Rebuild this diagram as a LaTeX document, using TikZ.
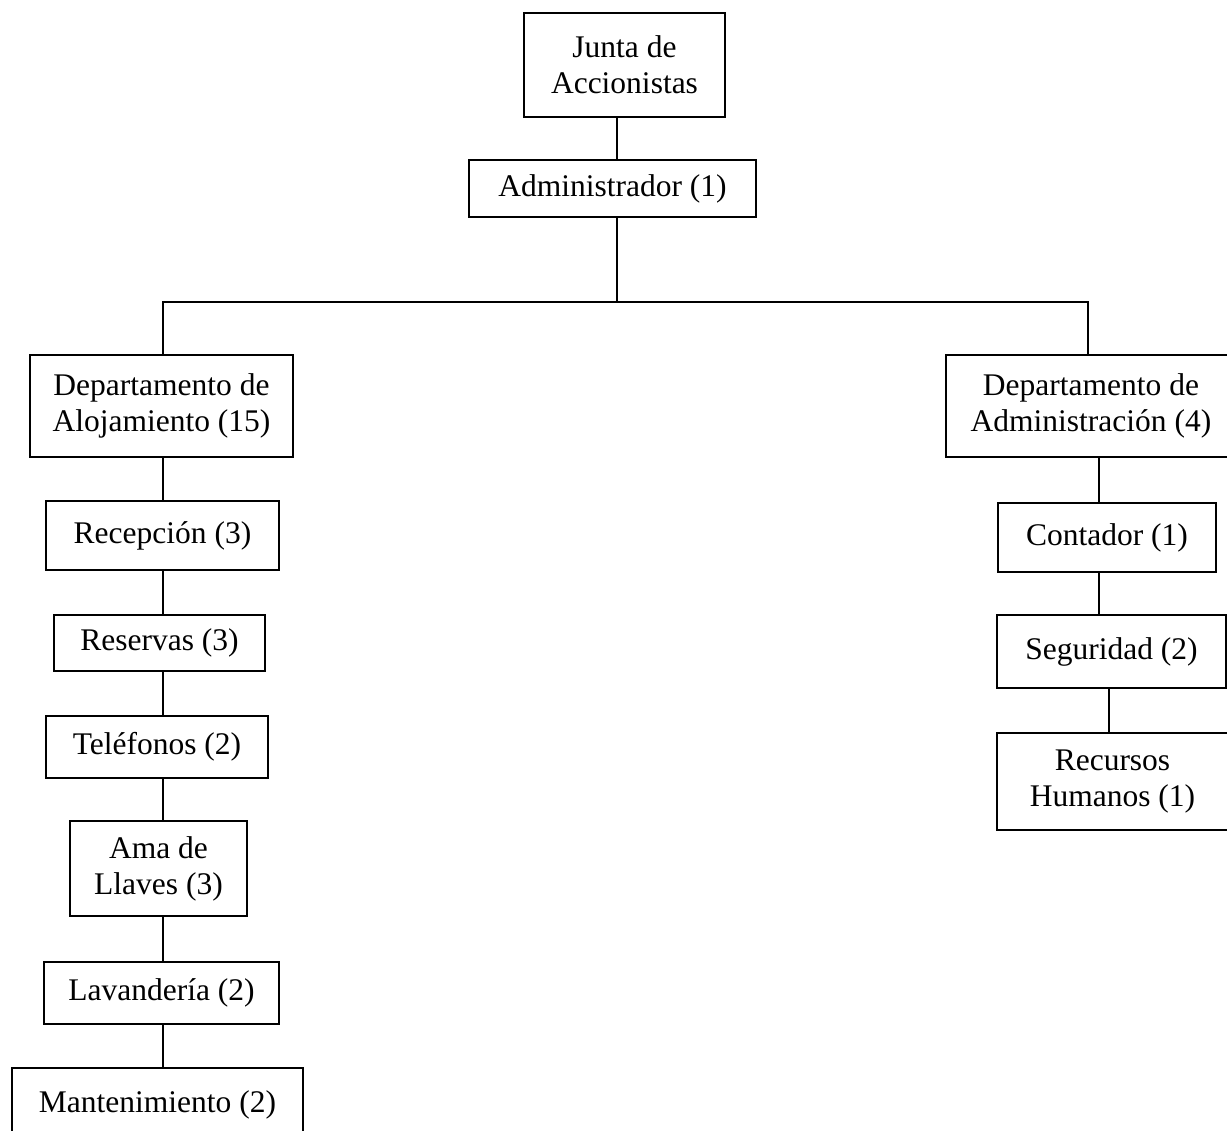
\documentclass[tikz,border=0pt]{standalone}
\usepackage{fontspec}
\setmainfont{Liberation Serif}
\begin{document}
\begin{tikzpicture}[x=1pt,y=-1pt,
  box/.style={draw, line width=1.8pt, inner sep=0pt, align=center,
    font=\fontsize{31.5}{36}\selectfont},
  conn/.style={line width=1.8pt}]
\clip (0,0) rectangle (1227,1131);
\fill[white] (0,0) rectangle (1227,1131);
% top
\node[box, minimum width=201pt, minimum height=104pt] (junta) at (624.5,65) {Junta de\\Accionistas};
\node[box, minimum width=287pt, minimum height=57pt] (admin) at (612.5,188.5) {Administrador (1)};
% departments
\node[box, minimum width=263pt, minimum height=102pt] (aloj) at (161.5,406) {Departamento de\\Alojamiento (15)};
\node[box, minimum width=290pt, minimum height=102pt] (dadm) at (1091,406) {Departamento de\\Administración (4)};
% left column
\node[box, minimum width=233pt, minimum height=69pt] (recep) at (162.5,535.5) {Recepción (3)};
\node[box, minimum width=211pt, minimum height=56pt] (reserv) at (159.5,643) {Reservas (3)};
\node[box, minimum width=222pt, minimum height=62pt] (telef) at (157,747) {Teléfonos (2)};
\node[box, minimum width=177pt, minimum height=95pt] (ama) at (158.5,868.5) {Ama de\\Llaves (3)};
\node[box, minimum width=235pt, minimum height=62pt] (lavan) at (161.5,993) {Lavandería (2)};
\node[box, minimum width=291pt, minimum height=74pt] (mant) at (157.5,1105) {Mantenimiento (2)};
% right column
\node[box, minimum width=218pt, minimum height=69pt] (cont) at (1107,537.5) {Contador (1)};
\node[box, minimum width=229pt, minimum height=73pt] (seg) at (1111.5,651.5) {Seguridad (2)};
\node[box, minimum width=231pt, minimum height=97pt] (rrhh) at (1112.5,781.5) {Recursos\\Humanos (1)};
% connector guides
\coordinate (bus) at (617,302);
\coordinate (lx) at (163,0);
\coordinate (rx) at (1088,0);
\coordinate (rx2) at (1099,0);
\coordinate (rx3) at (1109,0);
% connectors
\draw[conn] (junta.south -| bus) -- (admin.north -| bus);
\draw[conn] (admin.south -| bus) -- (bus);
\draw[conn] (aloj.north -| lx) |- (bus) -| (dadm.north -| rx);
\draw[conn] (aloj.south -| lx) -- (recep.north -| lx);
\draw[conn] (recep.south -| lx) -- (reserv.north -| lx);
\draw[conn] (reserv.south -| lx) -- (telef.north -| lx);
\draw[conn] (telef.south -| lx) -- (ama.north -| lx);
\draw[conn] (ama.south -| lx) -- (lavan.north -| lx);
\draw[conn] (lavan.south -| lx) -- (mant.north -| lx);
\draw[conn] (dadm.south -| rx2) -- (cont.north -| rx2);
\draw[conn] (cont.south -| rx2) -- (seg.north -| rx2);
\draw[conn] (seg.south -| rx3) -- (rrhh.north -| rx3);
\end{tikzpicture}
\end{document}
